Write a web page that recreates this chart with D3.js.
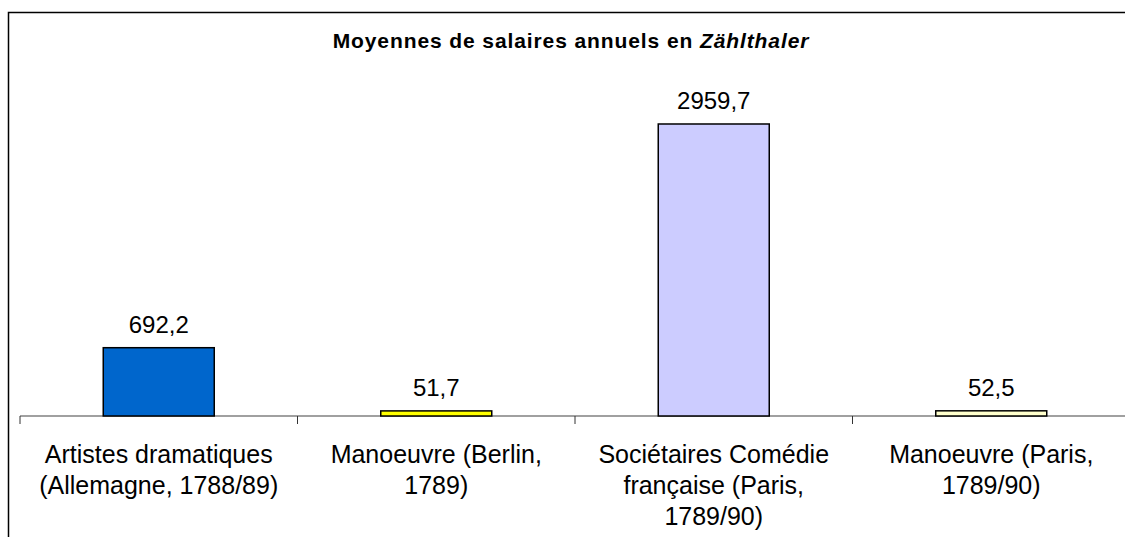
<!DOCTYPE html>
<html>
<head>
<meta charset="utf-8">
<script src="https://cdn.jsdelivr.net/npm/d3@7"></script>
<style>
  body { margin: 0; background: #fff; }
  svg { display: block; font-family: "Liberation Sans", Arial, sans-serif; }
</style>
</head>
<body>
<div id="chart"></div>
<script>
// data
var categories = ["art", "berlin", "comedie", "paris"];
var labelLines = [
	["Artistes dramatiques", "(Allemagne, 1788/89)"],
	["Manoeuvre (Berlin,", "1789)"],
	["Sociétaires Comédie", "française (Paris,", "1789/90)"],
	["Manoeuvre (Paris,", "1789/90)"]
];
var values = [692.2, 51.7, 2959.7, 52.5];
var valueLabels = ["692,2", "51,7", "2959,7", "52,5"];
var colors = ["#0066CC", "#FFFF00", "#CCCCFF", "#FFFFCC"];

var W = 1125, H = 537;
var axisY = 416;

var svg = d3.select("#chart").append("svg")
	.attr("width", W)
	.attr("height", H);

// chart frame (runs off right and bottom edge)
svg.append("rect")
	.attr("x", 8.5).attr("y", 12.5)
	.attr("width", 1140).attr("height", 560)
	.style("fill", "none")
	.style("stroke", "#000")
	.style("stroke-width", "1.5px");

// title
var title = svg.append("text")
	.attr("x", 571).attr("y", 48)
	.attr("text-anchor", "middle")
	.style("font-size", "21px")
	.style("letter-spacing", "0.9px")
	.style("font-weight", "bold");
title.append("tspan").text("Moyennes de salaires annuels en ");
title.append("tspan").style("font-style", "italic").text("Zählthaler");

// category slots and bars
var xCat = d3.scaleBand().domain(categories).range([20, 1130]).padding(0);
var xBar = d3.scaleBand().domain(categories).range([20, 1130])
	.paddingInner(0.6).paddingOuter(0.3);
var y = d3.scaleLinear().domain([0, 3500]).range([axisY, axisY - 3500 * 0.09866]);

// axis line
svg.append("line")
	.attr("x1", xCat.range()[0]).attr("x2", xCat.range()[1])
	.attr("y1", axisY).attr("y2", axisY)
	.style("stroke", "#808080")
	.style("stroke-width", "1.5px");

// ticks at slot boundaries
var tickPos = categories.map(function(c) { return xCat(c); });
tickPos.push(xCat.range()[1]);
svg.selectAll(".tick").data(tickPos).enter().append("line")
	.attr("class", "tick")
	.attr("x1", function(d) { return d; }).attr("x2", function(d) { return d; })
	.attr("y1", axisY).attr("y2", axisY + 8)
	.style("stroke", "#333")
	.style("stroke-width", "1px");

svg.selectAll(".bar").data(values).enter().append("rect")
	.attr("class", "bar")
	.attr("x", function(d, i) { return xBar(categories[i]); })
	.attr("y", function(d) { return y(d); })
	.attr("width", xBar.bandwidth())
	.attr("height", function(d) { return axisY - y(d); })
	.style("fill", function(d, i) { return colors[i]; })
	.style("stroke", "#000")
	.style("stroke-width", "1.5px");

// value labels
svg.selectAll(".val").data(values).enter().append("text")
	.attr("class", "val")
	.attr("x", function(d, i) { return xCat(categories[i]) + xCat.bandwidth() / 2; })
	.attr("y", function(d) { return y(d) - 15; })
	.attr("text-anchor", "middle")
	.style("font-size", "24px")
	.text(function(d, i) { return valueLabels[i]; });

// category labels, several lines each
var cat = svg.selectAll(".cat").data(labelLines).enter().append("text")
	.attr("class", "cat")
	.attr("text-anchor", "middle")
	.style("font-size", "25px");
cat.each(function(lines, i) {
	var cx = xCat(categories[i]) + xCat.bandwidth() / 2;
	d3.select(this).selectAll("tspan").data(lines).enter().append("tspan")
		.attr("x", cx)
		.attr("y", function(d, j) { return 463 + j * 31; })
		.text(function(d) { return d; });
});
</script>
</body>
</html>
